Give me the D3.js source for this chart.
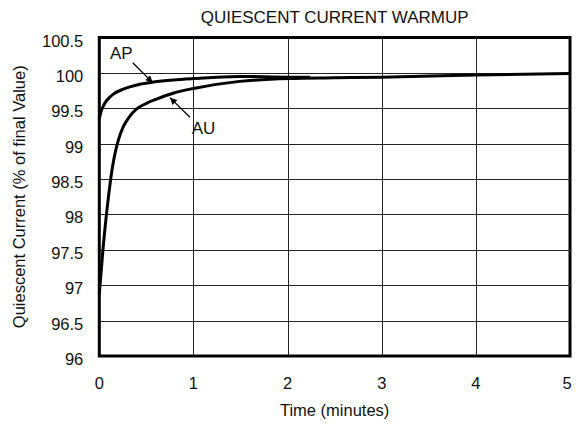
<!DOCTYPE html>
<html>
<head>
<meta charset="utf-8">
<script src="https://cdn.jsdelivr.net/npm/d3@7"></script>
<style>
  html, body { margin: 0; padding: 0; background: #fff; }
  svg { display: block; font-family: "Liberation Sans", Arial, Helvetica, sans-serif; }
</style>
</head>
<body>
<svg id="chart" width="583" height="426"></svg>
<script>
// ---- data ----
const title = "QUIESCENT CURRENT WARMUP";
const xTitle = "Time (minutes)";
const yTitle = "Quiescent Current (% of final Value)";
const xTicks = [0, 1, 2, 3, 4, 5];
const yTicks = [96, 96.5, 97, 97.5, 98, 98.5, 99, 99.5, 100, 100.5];
const yTickLabels = ["96", "96.5", "97", "97.5", "98", "98.5", "99", "99.5", "100", "100.5"];

const apTime  = [0, 0.02, 0.046, 0.078, 0.114, 0.149, 0.255, 0.43, 0.573, 0.786, 1.0, 1.49, 2.02, 2.24];
const apValue = [99.35, 99.46, 99.54, 99.61, 99.66, 99.70, 99.77, 99.84, 99.87, 99.90, 99.92, 99.95, 99.94, 99.94];

const auTime  = [0, 0.02, 0.04, 0.06, 0.08, 0.1, 0.12, 0.14, 0.17, 0.2, 0.255, 0.32, 0.397, 0.5, 0.609, 0.8, 1.0, 1.49, 2.02, 2.5, 3.0, 4.0, 5.0];
const auValue = [96.88, 97.2, 97.52, 97.8, 98.05, 98.28, 98.49, 98.67, 98.88, 99.04, 99.24, 99.38, 99.49, 99.57, 99.63, 99.72, 99.78, 99.88, 99.92, 99.93, 99.94, 99.97, 99.99];

// annotations in data units
const apNote = { label: "AP", tx: 0.114, tv: 100.2, x1: 0.355, v1: 100.144, x2: 0.567, v2: 99.862 };
const auNote = { label: "AU", tx: 0.981, tv: 99.133, x1: 0.963, v1: 99.372, x2: 0.751, v2: 99.65 };

// ---- layout ----
const L = 99.3, R = 570, T = 37.5, B = 356;
const svg = d3.select("#chart");
const x = d3.scaleLinear().domain([0, 5]).range([L, R]);
const y = d3.scaleLinear().domain([96, 100.5]).range([B, T]);
const fs = 16.5;

svg.append("defs").append("marker")
  .attr("id", "arrow").attr("viewBox", "0 0 10 10")
  .attr("refX", 10).attr("refY", 5)
  .attr("markerWidth", 10).attr("markerHeight", 7)
  .attr("markerUnits", "userSpaceOnUse")
  .attr("orient", "auto")
  .append("path").attr("d", "M0,0 L10,5 L0,10 Z").attr("fill", "#000");

// grid
svg.append("g").selectAll("line").data(yTicks.slice(1, -1)).join("line")
  .attr("x1", L).attr("x2", R)
  .attr("y1", d => Math.round(y(d)) + 0.5).attr("y2", d => Math.round(y(d)) + 0.5)
  .attr("stroke", "#222").attr("stroke-width", 1);
svg.append("g").selectAll("line").data(xTicks.slice(1, -1)).join("line")
  .attr("y1", T).attr("y2", B)
  .attr("x1", d => Math.round(x(d)) + 0.5).attr("x2", d => Math.round(x(d)) + 0.5)
  .attr("stroke", "#222").attr("stroke-width", 1);

// curves
const line = d3.line().x(d => x(d[0])).y(d => y(d[1])).curve(d3.curveMonotoneX);
svg.append("path").datum(d3.zip(auTime, auValue)).attr("d", line)
  .attr("fill", "none").attr("stroke", "#000").attr("stroke-width", 3);
svg.append("path").datum(d3.zip(apTime, apValue)).attr("d", line)
  .attr("fill", "none").attr("stroke", "#000").attr("stroke-width", 3);

// frame
svg.append("rect").attr("x", L).attr("y", T).attr("width", R - L).attr("height", B - T)
  .attr("fill", "none").attr("stroke", "#000").attr("stroke-width", 3);

// tick labels
svg.append("g").selectAll("text").data(yTicks).join("text")
  .attr("x", L - 16).attr("y", d => y(d) + 3)
  .attr("text-anchor", "end").attr("dominant-baseline", "central")
  .attr("font-size", fs).attr("fill", "#111")
  .text((d, i) => yTickLabels[i]);
svg.append("g").selectAll("text").data(xTicks).join("text")
  .attr("x", d => x(d) - (d === 5 ? 3 : 0)).attr("y", 389)
  .attr("text-anchor", "middle")
  .attr("font-size", fs).attr("fill", "#111")
  .text(d => d);

// titles
svg.append("text").attr("x", (L + R) / 2).attr("y", 23)
  .attr("text-anchor", "middle").attr("font-size", 17).attr("fill", "#111").text(title);
svg.append("text").attr("x", (L + R) / 2).attr("y", 416)
  .attr("text-anchor", "middle").attr("font-size", fs).attr("fill", "#111").text(xTitle);
svg.append("text")
  .attr("transform", `translate(25,${(T + B) / 2}) rotate(-90)`)
  .attr("text-anchor", "middle").attr("font-size", fs).attr("fill", "#111").text(yTitle);

// annotations
[apNote, auNote].forEach(n => {
  svg.append("text").attr("x", x(n.tx)).attr("y", y(n.tv))
    .attr("font-size", 17).attr("fill", "#111").text(n.label);
  svg.append("line")
    .attr("x1", x(n.x1)).attr("y1", y(n.v1)).attr("x2", x(n.x2)).attr("y2", y(n.v2))
    .attr("stroke", "#000").attr("stroke-width", 1.3)
    .attr("marker-end", "url(#arrow)");
});
</script>
</body>
</html>
